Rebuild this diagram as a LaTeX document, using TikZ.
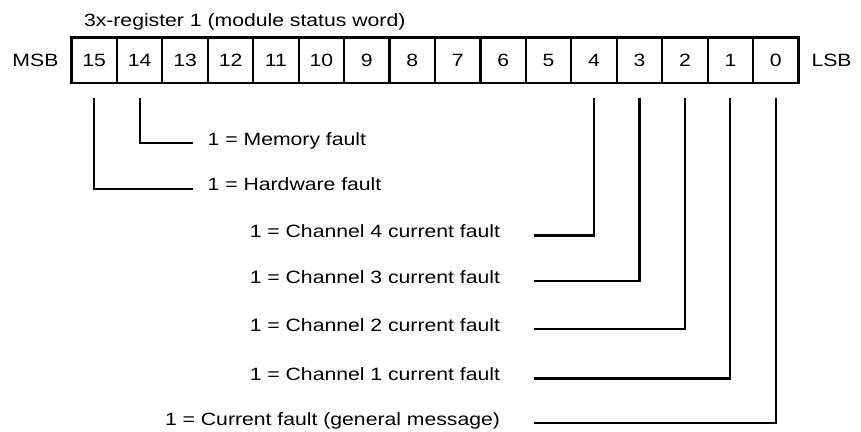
\documentclass[tikz,border=0pt]{standalone}
\usepackage{fontspec}
\setmainfont[FakeStretch=1.19]{Liberation Sans}
\usetikzlibrary{calc}
\begin{document}
\begin{tikzpicture}[x=1pt,y=-1pt,
  every node/.style={font=\fontsize{17.8}{20}\selectfont},
  cell/.style={draw, line width=2.2pt, inner sep=0pt, outer sep=0pt,
    minimum width=45.44pt, minimum height=45.2pt, text height=12.7pt, text depth=0pt},
  txt/.style={inner sep=0pt, outer sep=0pt},
  conn/.style={line width=2.2pt, line cap=butt, line join=miter}]
\useasboundingbox (0,0) rectangle (861,431);
% title
\node[txt, anchor=base west] (title) at (84,26) {3x-register 1 (module status word)};
% register cells
\foreach \i in {0,...,15}{
  \node[cell] (b\i) at ({71.5+45.44*(15-\i)+22.72},60.1)
    {\ifnum\i>9 \i\hspace{9pt}\else\i\fi};
}
\node[txt, anchor=base west] (msb) at (12.5,66.5) {MSB};
\node[txt, anchor=base west] (lsb) at (811.5,66.5) {LSB};
% connector tops (just below the register)
\foreach \i in {15,14,4,3,2,1,0}{
  \coordinate (t\i) at ($(b\i.south)+(0,15.3)$);
}
% left labels
\node[txt, anchor=base west] (l14) at (207.7,145) {1 = Memory fault};
\node[txt, anchor=base west] (l15) at (207.7,190.8) {1 = Hardware fault};
\coordinate (e14) at (193.3,143.3);
\coordinate (e15) at (193.3,189.3);
% right labels
\node[txt, anchor=base east] (l4) at (500,237.8) {1 = Channel 4 current fault};
\node[txt, anchor=base east] (l3) at (500,283.3) {1 = Channel 3 current fault};
\node[txt, anchor=base east] (l2) at (500,331.6) {1 = Channel 2 current fault};
\node[txt, anchor=base east] (l1) at (500,380.8) {1 = Channel 1 current fault};
\node[txt, anchor=base east] (l0) at (500,425.3) {1 = Current fault (general message)};
\coordinate (e4) at (534,235.5);
\coordinate (e3) at (534,281);
\coordinate (e2) at (534,329.3);
\coordinate (e1) at (534,378.5);
\coordinate (e0) at (534,423);
% connectors
\foreach \i in {15,14,4,3,2,1,0}{
  \draw[conn] (t\i) |- (e\i);
}
\end{tikzpicture}
\end{document}
